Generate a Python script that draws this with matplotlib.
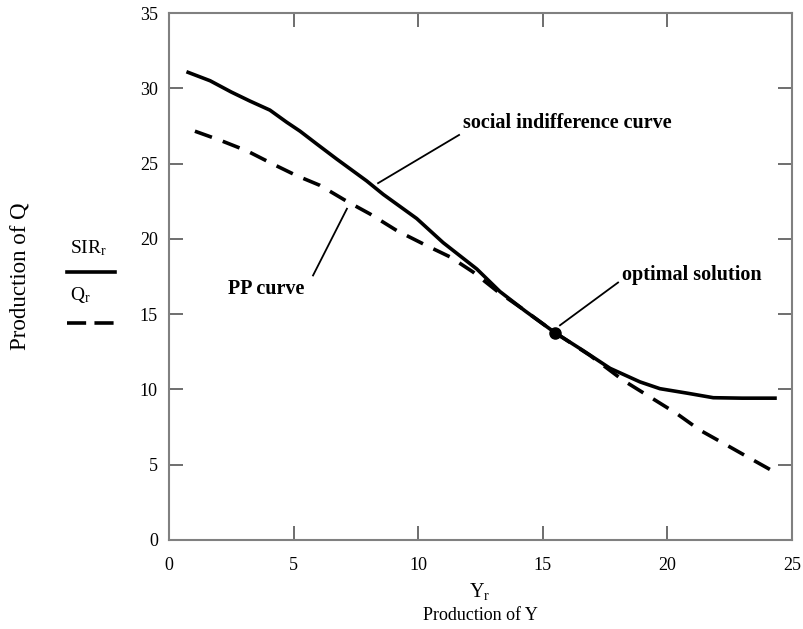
import matplotlib
matplotlib.use("Agg")
import matplotlib.pyplot as plt
from matplotlib.lines import Line2D

plt.rcParams['font.family'] = ['Liberation Serif', 'DejaVu Serif']
plt.rcParams['mathtext.fontset'] = 'custom'
plt.rcParams['mathtext.rm'] = 'Liberation Serif'
plt.rcParams['mathtext.it'] = 'Liberation Serif:italic'

# Social indifference curve (SIR_r)
sir_x = [0.7, 1.65, 2.5, 3.25, 4.05, 4.72, 5.26, 5.93, 6.73, 7.93, 8.6, 9.94,
         11.0, 12.35, 13.28, 14.3, 15.49, 16.6, 17.7, 18.9, 19.7, 20.8, 21.84, 23.0, 24.39]
sir_y = [31.1, 30.5, 29.75, 29.15, 28.55, 27.75, 27.15, 26.3, 25.3, 23.85, 22.95, 21.35,
         19.75, 18.0, 16.5, 15.2, 13.77, 12.6, 11.4, 10.5, 10.05, 9.75, 9.45, 9.42, 9.42]

# Production possibility curve (Q_r)
q_x = [1.04, 2.05, 3.12, 4.19, 5.12, 6.06, 7.13, 8.07, 9.14, 10.34, 11.28, 12.2,
       13.15, 14.1, 15.49, 16.9, 18.23, 19.3, 20.37, 21.3, 22.38, 23.45, 24.39]
q_y = [27.15, 26.55, 25.85, 24.95, 24.2, 23.55, 22.5, 21.65, 20.55, 19.55, 18.8, 17.8,
       16.55, 15.45, 13.77, 12.25, 10.6, 9.5, 8.4, 7.3, 6.3, 5.3, 4.43]

opt_x = [15.49]
opt_y = [13.77]

xticks = [0, 5, 10, 15, 20, 25]
yticks = [0, 5, 10, 15, 20, 25, 30, 35]

W, H = 804, 629
fig = plt.figure(figsize=(W / 100, H / 100), dpi=100)
ax = fig.add_axes([169 / W, 1 - 540 / H, (792 - 169) / W, (540 - 13) / H])

ax.plot(sir_x, sir_y, color='black', lw=2.6, solid_capstyle='butt')
ax.plot(q_x, q_y, color='black', lw=2.6, dashes=(5, 3.2), dash_capstyle='butt')
ax.plot(opt_x, opt_y, 'o', color='black', ms=8)

ax.set_xlim(0, 25)
ax.set_ylim(0, 35)
ax.set_xticks(xticks)
ax.set_yticks(yticks)
ax.set_xticklabels([str(t) for t in xticks])
ax.set_yticklabels([str(t) for t in yticks])
ax.tick_params(direction='in', length=10, width=1.2, color='#555555',
               top=True, right=True, labelsize=13)
ax.tick_params(axis='x', pad=12)
ax.tick_params(axis='y', pad=8)
for s in ax.spines.values():
    s.set_color('#808080')
    s.set_linewidth(1.5)

tfont = dict(fontsize=14.5, fontweight='bold', va='center', ha='left')
ax.text(11.8, 27.7, 'social indifference curve', **tfont)
ax.text(18.18, 17.57, 'optimal solution', **tfont)
ax.text(2.37, 16.7, 'PP curve', **tfont)
ax.plot([11.64, 8.39], [26.9, 23.7], color='black', lw=1.3)
ax.plot([18.02, 15.69], [17.1, 14.26], color='black', lw=1.3)
ax.plot([5.78, 7.14], [17.57, 22.0], color='black', lw=1.3)

# left-side labels and legend
fig.text(20 / W, 1 - 276 / H, 'Production of Q', rotation=90, ha='center', va='center', fontsize=16.5)
fig.text(88 / W, 1 - 248 / H, r'$\mathrm{SIR}_{\mathrm{r}}$', ha='center', va='center', fontsize=14)
fig.add_artist(Line2D([67 / W, 115 / W], [1 - 272 / H, 1 - 272 / H], color='black', lw=2.6,
                      transform=fig.transFigure))
fig.text(80 / W, 1 - 295 / H, r'$\mathrm{Q}_{\mathrm{r}}$', ha='center', va='center', fontsize=14)
fig.add_artist(Line2D([67 / W, 114 / W], [1 - 323 / H, 1 - 323 / H], color='black', lw=2.6,
                      dashes=(5.3, 2.3), dash_capstyle='butt', transform=fig.transFigure))

# bottom labels
fig.text(480 / W, 1 - 592 / H, r'$\mathrm{Y}_{\mathrm{r}}$', ha='center', va='center', fontsize=14.5)
fig.text(480 / W, 1 - 616 / H, 'Production of Y', ha='center', va='center', fontsize=13)

fig.savefig('out.png', dpi=100)
